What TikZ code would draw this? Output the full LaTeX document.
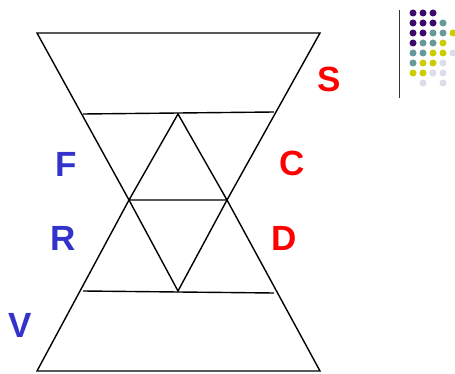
\documentclass[tikz,border=0pt]{standalone}
\usepackage{fontspec}
\setmainfont{Liberation Sans}
\usetikzlibrary{positioning}
\definecolor{LetterBlue}{HTML}{3333CC}
\definecolor{LetterRed}{HTML}{FF0000}
\definecolor{DotPurple}{HTML}{3F0A6E}
\definecolor{DotTeal}{HTML}{669A9A}
\definecolor{DotYellow}{HTML}{CCCC00}
\definecolor{DotLilac}{HTML}{DCDCEC}
\definecolor{Rule}{HTML}{333333}

\begin{document}
\begin{tikzpicture}[
  x=1pt,y=-1pt,
  edge/.style={line width=1.4pt,draw=black,line join=miter},
  letter/.style={font=\fontsize{35}{38}\bfseries\selectfont,inner sep=0pt},
  dot/.style={circle,inner sep=0pt,minimum size=7pt}
]
\useasboundingbox (0,0) rectangle (455,374);
% outer hourglass
\coordinate (tl) at (37,33);
\coordinate (tr) at (320,33);
\coordinate (bl) at (37,371);
\coordinate (br) at (320,371);
\coordinate (ml) at (129,200);
\coordinate (mr) at (227,200);
% cross bars and inner triangles
\coordinate (ul) at (83,114);
\coordinate (ur) at (274,112);
\coordinate (utop) at (178,114);
\coordinate (ll) at (83,291);
\coordinate (lr) at (274,293);
\coordinate (lbot) at (178,291);
\draw[edge] (tl) -- (tr) -- (mr) -- (br) -- (bl) -- (ml) -- cycle;
\draw[edge] (ul) -- (ur);
\draw[edge] (ll) -- (lr);
\draw[edge] (ml) -- (utop) -- (mr) -- cycle;
\draw[edge] (ml) -- (lbot) -- (mr);
% letters
\node[letter,text=LetterRed] (s) at (329,79) {S};
\node[letter,text=LetterBlue] (f) at (66,164) {F};
\node[letter,text=LetterRed] (c) at (292,163) {C};
\node[letter,text=LetterBlue] (r) at (63,238) {R};
\node[letter,text=LetterRed] (d) at (284,238) {D};
\node[letter,text=LetterBlue] (v) at (20,325) {V};
% corner ornament
\coordinate (rtop) at (399,10);
\coordinate (rbot) at (399,98);
\draw[line width=1pt,draw=Rule] (rtop) -- (rbot);
\foreach \col/\row/\clr in {
  1/1/DotPurple,2/1/DotPurple,3/1/DotPurple,
  1/2/DotPurple,2/2/DotPurple,3/2/DotPurple,4/2/DotTeal,
  1/3/DotPurple,2/3/DotPurple,3/3/DotTeal,4/3/DotTeal,5/3/DotYellow,
  1/4/DotPurple,2/4/DotTeal,3/4/DotTeal,4/4/DotYellow,
  1/5/DotTeal,2/5/DotTeal,3/5/DotYellow,4/5/DotYellow,5/5/DotLilac,
  1/6/DotTeal,2/6/DotYellow,3/6/DotYellow,4/6/DotLilac,
  1/7/DotYellow,2/7/DotYellow,3/7/DotLilac,4/7/DotLilac,
  2/8/DotLilac,4/8/DotLilac}
  \node[dot,fill=\clr] (dot-\col-\row) at ({403+10*\col},{3+10*\row}) {};
\end{tikzpicture}
\end{document}
